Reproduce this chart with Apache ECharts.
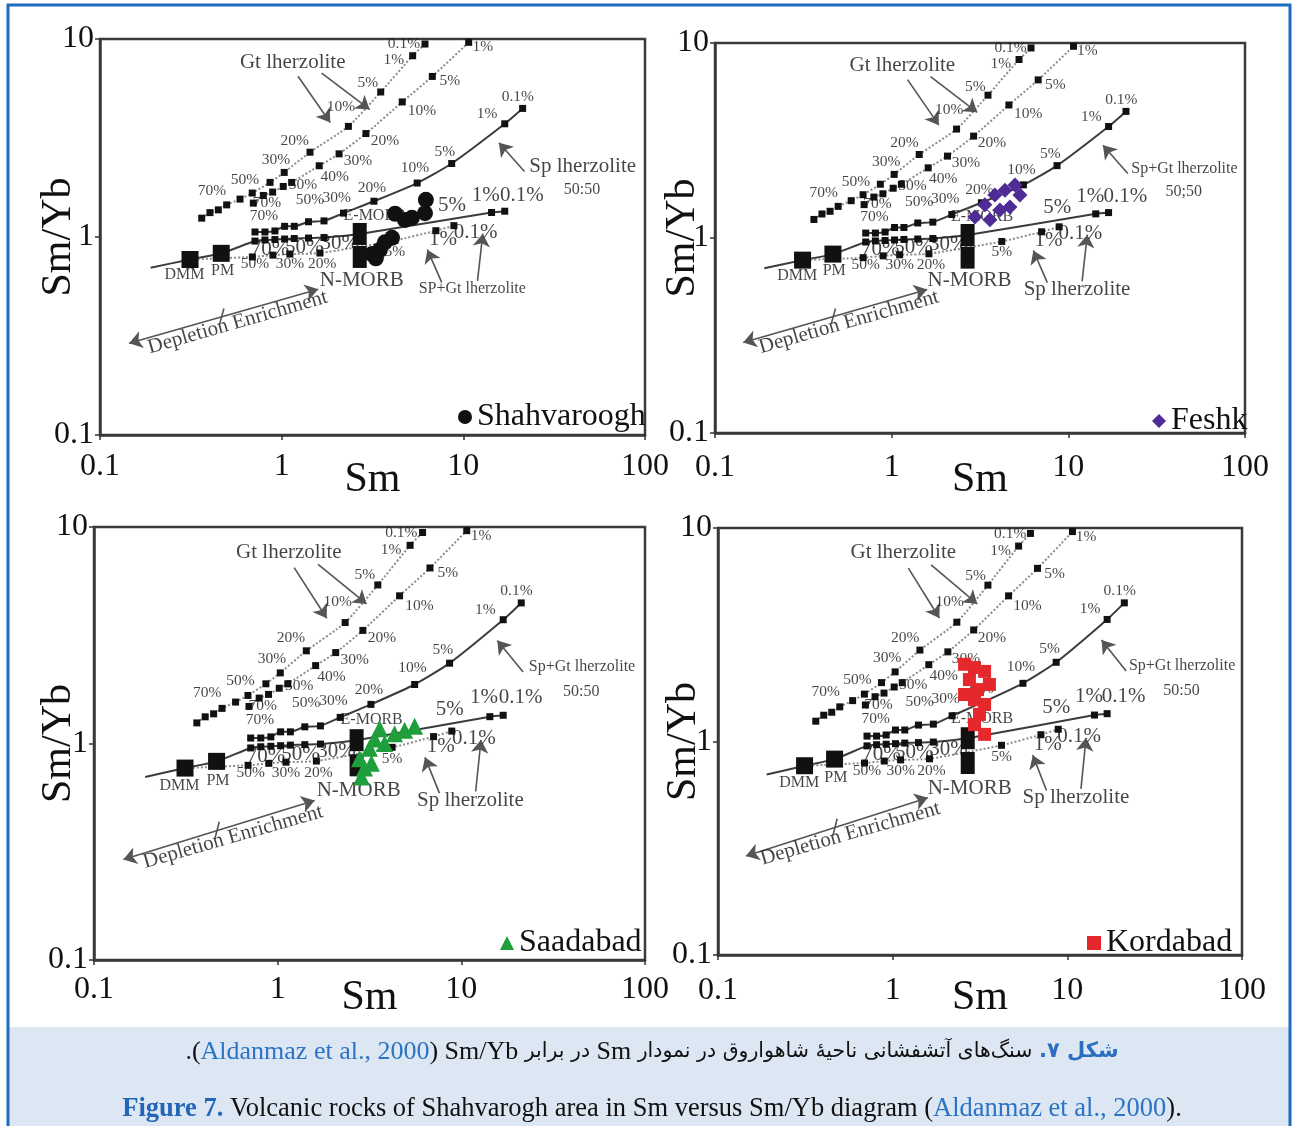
<!DOCTYPE html>
<html><head><meta charset="utf-8">
<script src="https://cdn.jsdelivr.net/npm/echarts@6/dist/echarts.min.js"></script>
<style>html,body{margin:0;padding:0;background:#fff}#c{width:1293px;height:1126px}</style>
</head><body><div id="c"></div>
<script>
// ---------------- DATA ----------------
const xTickLabels = ['0.1', '1', '10', '100'];
const yTickLabels = ['0.1', '1', '10'];

// Garnet lherzolite melting curve (left, dotted)
const gtA_Sm = [0.363, 0.403, 0.448, 0.498, 0.590, 0.689, 0.863, 1.033, 1.432, 2.33, 3.51, 5.26, 6.15];
const gtA_SmYb = [1.245, 1.328, 1.371, 1.453, 1.554, 1.667, 1.887, 2.119, 2.68, 3.62, 5.40, 8.23, 9.43];
// Garnet lherzolite melting curve (right, dotted)
const gtB_Sm = [0.698, 0.793, 0.892, 1.02, 1.135, 1.61, 2.07, 2.91, 4.61, 6.75, 10.7];
const gtB_SmYb = [1.483, 1.621, 1.686, 1.80, 1.886, 2.29, 2.63, 3.33, 4.81, 6.47, 9.62];
// Sp+Gt lherzolite 50:50 (solid)
const spgt_Sm = [0.713, 0.809, 0.918, 1.038, 1.173, 1.405, 1.71, 2.19, 3.22, 5.57, 8.63, 16.9, 21.2];
const spgt_SmYb = [1.06, 1.06, 1.073, 1.132, 1.132, 1.194, 1.206, 1.32, 1.516, 1.873, 2.35, 3.73, 4.46];
// Mantle array / Sp lherzolite (solid)
const mantle_Sm = [0.190, 0.313, 0.465, 0.713, 0.809, 0.918, 1.038, 1.173, 1.405, 1.71, 2.69, 14.3, 16.9];
const mantle_SmYb = [0.700, 0.770, 0.827, 0.954, 0.966, 0.971, 0.977, 0.983, 0.988, 0.994, 1.036, 1.33, 1.35];
// Sp lherzolite (dotted, from DMM)
const sp_Sm = [0.313, 0.690, 0.895, 1.11, 1.625, 4.2, 7.06, 8.87];
const sp_SmYb = [0.770, 0.793, 0.810, 0.820, 0.830, 0.96, 1.076, 1.141];
// Reference compositions
const refNames = ['DMM', 'PM', 'N-MORB', 'E-MORB'];
const ref_Sm = [0.313, 0.465, 2.69, 2.69];
const ref_SmYb = [0.770, 0.827, 0.793, 1.036];

// Samples
const shahvaroogh_Sm = [6.22, 6.15, 5.21, 4.21, 4.77, 4.05, 3.70, 3.47, 3.30, 3.14];
const shahvaroogh_SmYb = [1.54, 1.32, 1.25, 1.31, 1.22, 0.99, 0.94, 0.86, 0.78, 0.82];
const feshk_Sm = [2.96, 3.37, 3.84, 4.38, 4.99, 5.32, 4.10, 4.67, 3.60];
const feshk_SmYb = [1.28, 1.48, 1.66, 1.76, 1.87, 1.66, 1.39, 1.44, 1.24];
const saadabad_Sm = [2.79, 2.97, 3.16, 3.37, 3.59, 3.82, 4.33, 4.91, 5.57, 2.86, 3.24];
const saadabad_SmYb = [0.85, 0.77, 0.95, 1.05, 1.17, 1.00, 1.11, 1.15, 1.20, 0.70, 0.81];
const kordabad_Sm = [2.58, 2.94, 3.36, 2.75, 3.58, 2.58, 2.94, 3.36, 3.14, 2.94, 3.36, 3.06];
const kordabad_SmYb = [2.30, 2.22, 2.13, 1.95, 1.85, 1.66, 1.57, 1.49, 1.34, 1.20, 1.08, 1.75];

// Annotation texts [text, Sm, Sm/Yb]
const pctSmall = [
  ['70%', 0.413, 1.712], ['50%', 0.628, 1.946], ['30%', 0.931, 2.46], ['20%', 1.18, 3.07], ['10%', 2.12, 4.52], ['5%', 2.98, 5.98], ['1%', 4.15, 7.82], ['0.1%', 4.71, 9.43],
  ['70%', 0.83, 1.49], ['50%', 1.31, 1.84], ['40%', 1.96, 2.02], ['30%', 2.63, 2.43], ['20%', 3.70, 3.07], ['10%', 5.92, 4.31], ['5%', 8.44, 6.12], ['1%', 12.8, 9.10],
  ['70%', 0.80, 1.28], ['50%', 1.43, 1.54], ['30%', 2.01, 1.58], ['20%', 3.14, 1.77], ['10%', 5.42, 2.24], ['5%', 7.92, 2.70], ['1%', 13.5, 4.16], ['0.1%', 19.95, 5.08],
  ['50%', 0.713, 0.729], ['30%', 1.11, 0.729], ['20%', 1.67, 0.729], ['5%', 4.2, 0.845]
];
const pctBig = [
  ['5%', 8.65, 1.44], ['1%', 13.3, 1.63], ['0.1%', 21.0, 1.63], ['1%', 7.72, 0.966], ['0.1%', 11.7, 1.06],
  ['70%', 0.863, 0.869], ['50%', 1.33, 0.889], ['30%', 2.09, 0.922]
];
const namesBig = [['Gt lherzolite', 1.15, 7.64], ['N-MORB', 2.76, 0.605]];
const namesSmall = [['DMM', 0.292, 0.641], ['PM', 0.473, 0.676], ['E-MORB', 3.25, 1.28]];
const upperCurveName = ['Sp lherzolite', 'Sp+Gt lherzolite', 'Sp+Gt lherzolite', 'Sp+Gt lherzolite'];
const upperCurvePos = [45.4, 2.27];
const ratioText = ['50:50', '50;50', '50:50', '50:50'];
const ratioPos = [45, 1.73];
const lowerCurveName = ['SP+Gt lherzolite', 'Sp lherzolite', 'Sp lherzolite', 'Sp lherzolite'];
const lowerCurvePos = [11.2, 0.545];
const trendText = ['Depletion Enrichment', 0.573, 0.370];
// arrows [[Sm1, SmYb1], [Sm2, SmYb2]]
const pointerArrows = [
  [[1.23, 6.49], [1.85, 3.79]], [[1.66, 6.72], [3.05, 4.41]],
  [[21.7, 2.14], [15.7, 2.99]],
  [[7.60, 0.590], [6.34, 0.863]], [[11.97, 0.600], [12.8, 1.04]]
];
const trendArrow = [[0.1445, 0.291], [1.59, 0.545]];
const trendTick = [[0.481, 0.435], [0.455, 0.363]];

const sampleNames = ['Shahvaroogh', 'Feshk', 'Saadabad', 'Kordabad'];

// ---------------- LAYOUT / STYLE ----------------
const FONT = '"Liberation Serif","Times New Roman",serif';
const panels = [
  {grid: {left: 100, top: 39, width: 545, height: 396}, xGap: 24, yGap: 20, xMargin: 16, legend: {left: 453, top: 396},
   sm: shahvaroogh_Sm, r: shahvaroogh_SmYb, symbol: 'circle', size: 16, color: '#111111', upperSize: 21, lowerSize: 16},
  {grid: {left: 715, top: 43, width: 530, height: 390}, xGap: 26, yGap: 11, xMargin: 19, legend: {left: 1147, top: 400},
   sm: feshk_Sm, r: feshk_SmYb, symbol: 'diamond', size: 15, color: '#4f2b96', upperSize: 16, lowerSize: 21},
  {grid: {left: 94, top: 527, width: 551, height: 433}, xGap: 17, yGap: 14, xMargin: 14, legend: {left: 495, top: 922},
   sm: saadabad_Sm, r: saadabad_SmYb, symbol: 'triangle', size: 17, color: '#1f9e3c', upperSize: 16, lowerSize: 21},
  {grid: {left: 718, top: 528, width: 524, height: 427}, xGap: 22, yGap: 13, xMargin: 20, legend: {left: 1082, top: 922},
   sm: kordabad_Sm, r: kordabad_SmYb, symbol: 'rect', size: 13, color: '#e5282b', upperSize: 16, lowerSize: 21}
];

const zip = (a, b) => a.map((v, i) => [v, b[i]]);
const fmtX = v => xTickLabels[Math.round(Math.log10(v)) + 1];
const fmtY = v => yTickLabels[Math.round(Math.log10(v)) + 1];

const option = {animation: false, backgroundColor: '#ffffff', grid: [], xAxis: [], yAxis: [], legend: [], series: [], graphic: []};

function textSeries(i, items, fontSize, extra) {
  return Object.assign({
    type: 'scatter', xAxisIndex: i, yAxisIndex: i, symbolSize: 1, silent: true, z: 6,
    itemStyle: {color: 'transparent'},
    data: items.map(a => ({name: a[0], value: [a[1], a[2]]})),
    label: {show: true, position: 'inside', formatter: '{b}', fontFamily: FONT, fontSize: fontSize, color: '#151515'}
  }, extra || {});
}

panels.forEach((p, i) => {
  const g = p.grid;
  option.grid.push({left: g.left, top: g.top, width: g.width, height: g.height, show: true,
    borderColor: '#3a3a3a', borderWidth: 2.5, backgroundColor: 'transparent'});
  option.xAxis.push({gridIndex: i, type: 'log', logBase: 10, min: 0.1, max: 100,
    name: 'Sm', nameLocation: 'middle', nameGap: p.xGap, nameMoveOverlap: false,
    nameTextStyle: {fontFamily: FONT, fontSize: 42, color: '#111'},
    axisLine: {show: true, lineStyle: {color: '#3a3a3a', width: 2.5}},
    axisTick: {show: true, length: 5, lineStyle: {color: '#333', width: 1.5}},
    axisLabel: {fontFamily: FONT, fontSize: 32, color: '#111', margin: p.xMargin, formatter: fmtX},
    splitLine: {show: false}, minorTick: {show: false}});
  option.yAxis.push({gridIndex: i, type: 'log', logBase: 10, min: 0.1, max: 10,
    name: 'Sm/Yb', nameLocation: 'middle', nameGap: p.yGap, nameRotate: 90, nameMoveOverlap: false,
    nameTextStyle: {fontFamily: FONT, fontSize: 42, color: '#111'},
    axisLine: {show: true, lineStyle: {color: '#3a3a3a', width: 2.5}},
    axisTick: {show: true, length: 5, lineStyle: {color: '#333', width: 1.5}},
    axisLabel: {fontFamily: FONT, fontSize: 32, color: '#111', margin: 6, formatter: fmtY},
    splitLine: {show: false}, minorTick: {show: false}});

  const base = {xAxisIndex: i, yAxisIndex: i, silent: true};
  const dotted = {type: 'dotted', color: '#8c8c8c', width: 2};
  const sq = {color: '#111', opacity: 1};
  option.series.push(
    Object.assign({type: 'line', data: zip(gtA_Sm, gtA_SmYb), symbol: 'rect', symbolSize: 7, smooth: 0.2,
      itemStyle: sq, lineStyle: dotted, z: 3}, base),
    Object.assign({type: 'line', data: zip(gtB_Sm, gtB_SmYb), symbol: 'rect', symbolSize: 7, smooth: 0.2,
      itemStyle: sq, lineStyle: dotted, z: 3}, base),
    Object.assign({type: 'line', data: zip(spgt_Sm, spgt_SmYb), symbol: 'rect', symbolSize: 7, smooth: 0.2,
      itemStyle: sq, lineStyle: {color: '#3c3c3c', width: 2}, z: 3}, base),
    Object.assign({type: 'line', data: zip(mantle_Sm, mantle_SmYb), symbol: (v, prm) => prm.dataIndex === 0 ? 'none' : 'rect',
      symbolSize: 7, smooth: 0.2, itemStyle: sq, lineStyle: {color: '#3c3c3c', width: 2}, z: 3}, base),
    Object.assign({type: 'line', data: zip(sp_Sm, sp_SmYb), symbol: 'rect', symbolSize: 7, smooth: 0.2,
      itemStyle: sq, lineStyle: dotted, z: 3}, base),
    Object.assign({type: 'scatter', data: zip(ref_Sm, ref_SmYb).map((v, k) => ({name: refNames[k], value: v})), symbol: 'rect',
      symbolSize: (v, prm) => prm.dataIndex < 2 ? 17 : [14, 22], itemStyle: sq, z: 4}, base),
    Object.assign({type: 'lines', coordinateSystem: 'cartesian2d', data: pointerArrows.map(c => ({coords: c})),
      symbol: ['none', 'arrow'], symbolSize: 13, lineStyle: {color: '#555', width: 1.6, opacity: 1}, z: 5}, base),
    Object.assign({type: 'lines', coordinateSystem: 'cartesian2d', data: [{coords: trendArrow}],
      symbol: ['arrow', 'arrow'], symbolSize: 13, lineStyle: {color: '#555', width: 1.6, opacity: 1}, z: 5}, base),
    Object.assign({type: 'lines', coordinateSystem: 'cartesian2d', data: [{coords: trendTick}],
      symbol: ['none', 'none'], lineStyle: {color: '#555', width: 1.6, opacity: 1}, z: 5}, base),
    textSeries(i, pctSmall, 15.5),
    textSeries(i, pctBig, 21),
    textSeries(i, namesBig, 21),
    textSeries(i, namesSmall, 16),
    textSeries(i, [[upperCurveName[i], upperCurvePos[0], upperCurvePos[1]]], p.upperSize),
    textSeries(i, [[ratioText[i], ratioPos[0], ratioPos[1]]], 16),
    textSeries(i, [[lowerCurveName[i], lowerCurvePos[0], lowerCurvePos[1]]], p.lowerSize),
    textSeries(i, [trendText], 21, {}),
    {type: 'scatter', name: sampleNames[i], xAxisIndex: i, yAxisIndex: i, data: zip(p.sm, p.r),
      symbol: p.symbol, symbolSize: p.size, itemStyle: {color: p.color, opacity: 1}, z: 10}
  );
  const trendSeries = option.series[option.series.length - 2];
  trendSeries.label.rotate = 16;

  option.legend.push({show: true, left: p.legend.left, top: p.legend.top, selectedMode: false,
    data: [{name: sampleNames[i], icon: p.symbol}], itemWidth: 14, itemHeight: 14,
    textStyle: {fontFamily: FONT, fontSize: 32, color: '#111', lineHeight: 32}});
});

// caption & frame
option.graphic.push(
  {type: 'rect', shape: {x: 8, y: 1027, width: 1282, height: 110}, style: {fill: '#dde7f3'}, z: 0, silent: true},
  {type: 'rect', shape: {x: 8, y: 5, width: 1282, height: 1135}, style: {fill: 'none', stroke: '#1c6cc0', lineWidth: 3}, z: 1, silent: true},
  {type: 'text', x: 652, y: 1052, z: 5, silent: true, style: {
    text: '{p|.(}{bl|Aldanmaz et al., 2000}{p|) Sm/Yb }{fa|در برابر}{p| Sm }{fa|سنگ‌های آتشفشانی ناحیهٔ شاهواروق در نمودار}{p| }{fb|.}{fb|شکل ۷}',
    align: 'center', verticalAlign: 'middle',
    rich: {
      p: {fontFamily: FONT, fontSize: 26, fill: '#111'},
      bl: {fontFamily: FONT, fontSize: 26, fill: '#2a73c5'},
      fa: {fontFamily: '"DejaVu Sans"', fontSize: 20.5, fill: '#111'},
      fb: {fontFamily: '"DejaVu Sans"', fontSize: 21, fontWeight: 'bold', fill: '#2a6fc0'}
    }}},
  {type: 'text', x: 652, y: 1109, z: 5, silent: true, style: {
    text: '{fg|Figure 7.}{e| Volcanic rocks of Shahvarogh area in Sm versus Sm/Yb diagram (}{bl|Aldanmaz et al., 2000}{e|).}',
    align: 'center', verticalAlign: 'middle',
    rich: {
      fg: {fontFamily: FONT, fontSize: 26.5, fontWeight: 'bold', fill: '#2366b8'},
      e: {fontFamily: FONT, fontSize: 26.5, fill: '#111'},
      bl: {fontFamily: FONT, fontSize: 26.5, fill: '#2a73c5'}
    }}}
);

const chart = echarts.init(document.getElementById('c'), null, {renderer: 'canvas'});
chart.setOption(option);
</script></body></html>
